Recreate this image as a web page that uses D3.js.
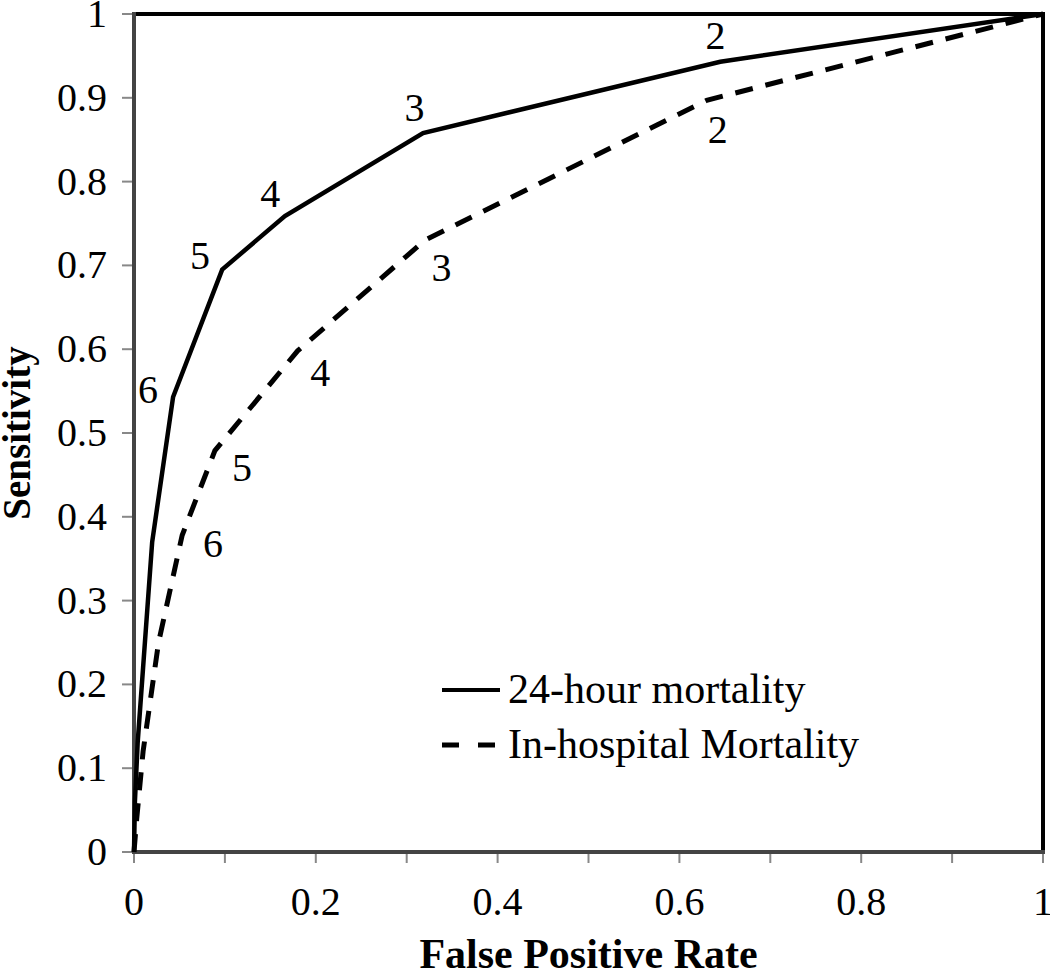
<!DOCTYPE html>
<html><head><meta charset="utf-8">
<script src="https://cdn.jsdelivr.net/npm/d3@7"></script>
<style>body{margin:0;background:#fff}svg{display:block}</style>
</head><body>
<script>
// ---- data ----
const fpr24 = [0, 0.001, 0.004, 0.01, 0.02, 0.043, 0.097, 0.166, 0.318, 0.645, 1];
const sens24 = [0, 0.06, 0.13, 0.22, 0.37, 0.543, 0.695, 0.759, 0.858, 0.943, 1];
const labels24 = ["", "", "", "", "", "6", "5", "4", "3", "2", ""];
const fprHosp = [0, 0.003, 0.01, 0.027, 0.053, 0.089, 0.18, 0.32, 0.63, 1];
const sensHosp = [0, 0.04, 0.12, 0.25, 0.378, 0.479, 0.598, 0.73, 0.897, 1];
const labelsHosp = ["", "", "", "", "6", "5", "4", "3", "2", ""];
const xTicks = [0, 0.1, 0.2, 0.3, 0.4, 0.5, 0.6, 0.7, 0.8, 0.9, 1];
const xTickLabels = [0, 0.2, 0.4, 0.6, 0.8, 1];
const yTicks = [0, 0.1, 0.2, 0.3, 0.4, 0.5, 0.6, 0.7, 0.8, 0.9, 1];
const seriesNames = ["24-hour mortality", "In-hospital Mortality"];
const xTitle = "False Positive Rate";
const yTitle = "Sensitivity";

// ---- layout ----
const W = 1050, H = 972;
const L = 134, R = 1043, T = 14, B = 852;
const font = "'Liberation Serif','Times New Roman',serif";

const svg = d3.select("body").append("svg").attr("width", W).attr("height", H);
const x = d3.scaleLinear().domain([0, 1]).range([L, R]);
const y = d3.scaleLinear().domain([0, 1]).range([B, T]);

// ticks
svg.append("g").selectAll("line").data(yTicks).join("line")
  .attr("x1", L - 12).attr("x2", L).attr("y1", d => y(d)).attr("y2", d => y(d))
  .attr("stroke", "#888").attr("stroke-width", 2);
svg.append("g").selectAll("line").data(xTicks).join("line")
  .attr("x1", d => x(d)).attr("x2", d => x(d)).attr("y1", B).attr("y2", B + 11)
  .attr("stroke", "#888").attr("stroke-width", 2);

// tick labels
svg.append("g").selectAll("text").data(yTicks).join("text")
  .attr("x", 107).attr("y", d => y(d) + 13).attr("text-anchor", "end")
  .style("font-family", font).style("font-size", "40px").attr("fill", "#000")
  .text(d => d3.format("~g")(d));
svg.append("g").selectAll("text").data(xTickLabels).join("text")
  .attr("x", d => x(d)).attr("y", 915).attr("text-anchor", "middle")
  .style("font-family", font).style("font-size", "40px").attr("fill", "#000")
  .text(d => d3.format("~g")(d));

// frame
svg.append("line").attr("x1", L).attr("x2", R + 2).attr("y1", T).attr("y2", T)
  .attr("stroke", "#000").attr("stroke-width", 4);
svg.append("line").attr("x1", R).attr("x2", R).attr("y1", T).attr("y2", B)
  .attr("stroke", "#000").attr("stroke-width", 4);
svg.append("line").attr("x1", L).attr("x2", L).attr("y1", T - 2).attr("y2", B + 2)
  .attr("stroke", "#444").attr("stroke-width", 4);
svg.append("line").attr("x1", L).attr("x2", R + 2).attr("y1", B).attr("y2", B)
  .attr("stroke", "#444").attr("stroke-width", 4);

// curves
const line = d3.line().x(d => x(d[0])).y(d => y(d[1]));
const s24 = fpr24.map((f, i) => [f, sens24[i]]);
const sH = fprHosp.map((f, i) => [f, sensHosp[i]]);
svg.append("path").attr("d", line(s24)).attr("fill", "none")
  .attr("stroke", "#000").attr("stroke-width", 4.5).attr("stroke-linejoin", "miter");
svg.append("path").attr("d", line(sH)).attr("fill", "none")
  .attr("stroke", "#000").attr("stroke-width", 5).attr("stroke-dasharray", "18,13");

// threshold labels placed along curve normals
function addLabels(pts, labs, side, dist) {
  const g = svg.append("g");
  pts.forEach((p, i) => {
    if (!labs[i]) return;
    const a = pts[i - 1], b = pts[i + 1];
    let tx = x(b[0]) - x(a[0]), ty = y(b[1]) - y(a[1]);
    const n = Math.hypot(tx, ty); tx /= n; ty /= n;
    const nx = side < 0 ? ty : -ty, ny = side < 0 ? -tx : tx;
    g.append("text").attr("x", x(p[0]) + nx * dist).attr("y", y(p[1]) + ny * dist + 13)
      .attr("text-anchor", "middle")
      .style("font-family", font).style("font-size", "40px").attr("fill", "#000")
      .text(labs[i]);
  });
}
addLabels(s24, labels24, -1, 26);
addLabels(sH, labelsHosp, 1, 32);

// legend
const lg = svg.append("g");
lg.append("line").attr("x1", 442).attr("x2", 500).attr("y1", 690).attr("y2", 690)
  .attr("stroke", "#000").attr("stroke-width", 4);
lg.append("line").attr("x1", 442).attr("x2", 500).attr("y1", 745).attr("y2", 745)
  .attr("stroke", "#000").attr("stroke-width", 5).attr("stroke-dasharray", "17,19");
lg.selectAll("text").data(seriesNames).join("text")
  .attr("x", 508).attr("y", (d, i) => 690 + i * 55 + 13)
  .style("font-family", font).style("font-size", "42px").attr("fill", "#000")
  .text(d => d);

// axis titles
svg.append("text").attr("x", x(0.5)).attr("y", 968).attr("text-anchor", "middle")
  .style("font-family", font).style("font-size", "42px").style("font-weight", "bold")
  .text(xTitle);
svg.append("text").attr("transform", `translate(30,${y(0.5)}) rotate(-90)`)
  .attr("text-anchor", "middle")
  .style("font-family", font).style("font-size", "39px").style("font-weight", "bold")
  .text(yTitle);
</script>
</body></html>
